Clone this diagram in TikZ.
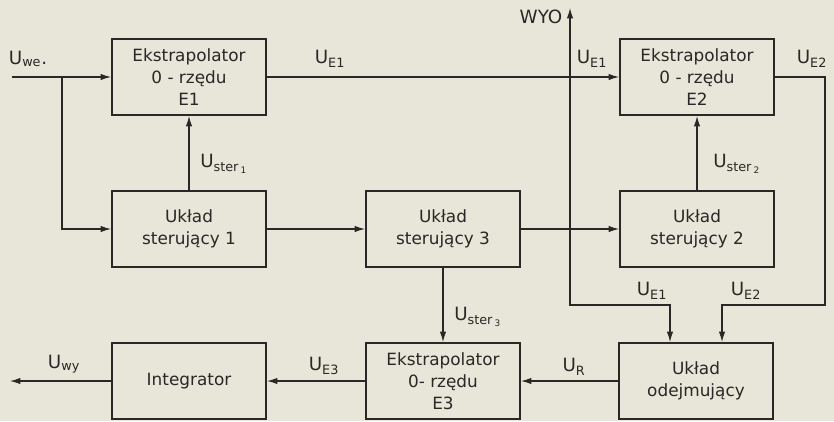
\documentclass[tikz,border=0pt]{standalone}
\usepackage{fontspec}
\setmainfont{DejaVu Sans}
\usetikzlibrary{arrows.meta}

\definecolor{paper}{RGB}{232,230,216}
\definecolor{ink}{RGB}{40,40,38}

\tikzset{
    block/.style={draw=ink, line width=1.4pt, minimum width=3.85cm, minimum height=1.9cm, align=center, font=\fontsize{12}{15.5}\selectfont, text=ink},
    sig/.style={-{Latex[length=2.6mm,width=1.6mm]}, draw=ink, line width=0.8pt},
    lab/.style={font=\fontsize{13}{15}\selectfont, text=ink}
}

\begin{document}
\begin{tikzpicture}[x=0.025cm, y=-0.025cm]

    % paper
    \fill[paper] (0,0) rectangle (834,421);
    \useasboundingbox (0,0) rectangle (834,421);

    % Blocks
    \node[block] (E1) at (189,77) {Ekstrapolator\\0 - rzędu\\E1};
    \node[block] (E2) at (697,77) {Ekstrapolator\\0 - rzędu\\E2};
    \node[block] (S1) at (189,229) {Układ\\sterujący 1};
    \node[block] (S3) at (443,229) {Układ\\sterujący 3};
    \node[block] (S2) at (697,229) {Układ\\sterujący 2};
    \node[block] (Int) at (189,381) {Integrator};
    \node[block] (E3) at (443,381) {Ekstrapolator\\0- rzędu\\E3};
    \node[block] (Odj) at (696,381) {Układ\\odejmujący};

    % helper points
    \coordinate (in) at (12,77);
    \coordinate (b1) at (62,77);
    \coordinate (j1) at (570,77);
    \coordinate (wyo) at (570,8);
    \coordinate (c1) at (570,305);
    \coordinate (c2) at (825,305);
    \coordinate (out) at (10,381);

    % Uwe
    \draw[sig] (in) -- (E1.west);
    \draw[sig] (b1) |- (S1.west);
    \node[lab] (uwe) at (28,59) {U\textsubscript{we}.};

    % UE1
    \draw[sig] (E1.east) -- (E2.west);
    \node[lab] (ue1a) at (330,59) {U\textsubscript{E1}};
    \node[lab] (ue1b) at (592,59) {U\textsubscript{E1}};
    \draw[sig] (j1) -- (wyo);
    \node[lab] (wyolab) at (541,17) {WYO};
    \draw[sig] (j1) -- (c1) -| ([xshift=-0.65cm]Odj.north);
    \node[lab] (ue1c) at (652,291) {U\textsubscript{E1}};

    % UE2
    \draw[sig] (E2.east) -| (c2) -| ([xshift=0.65cm]Odj.north);
    \node[lab] (ue2a) at (812,59) {U\textsubscript{E2}};
    \node[lab] (ue2b) at (746,291) {U\textsubscript{E2}};

    % Uster
    \draw[sig] (S1.north) -- (E1.south);
    \node[lab] (us1) at (224,164) {U\textsubscript{ster\,\textsubscript{1}}};
    \draw[sig] (S2.north) -- (E2.south);
    \node[lab] (us2) at (737,164) {U\textsubscript{ster\,\textsubscript{2}}};
    \draw[sig] (S3.south) -- (E3.north);
    \node[lab] (us3) at (478,317) {U\textsubscript{ster\,\textsubscript{3}}};

    % control chain
    \draw[sig] (S1.east) -- (S3.west);
    \draw[sig] (S3.east) -- (S2.west);

    % bottom row
    \draw[sig] (Odj.west) -- (E3.east);
    \node[lab] (ur) at (574,367) {U\textsubscript{R}};
    \draw[sig] (E3.west) -- (Int.east);
    \node[lab] (ue3) at (324,366) {U\textsubscript{E3}};
    \draw[sig] (Int.west) -- (out);
    \node[lab] (uwy) at (64,364) {U\textsubscript{wy}};

\end{tikzpicture}
\end{document}
